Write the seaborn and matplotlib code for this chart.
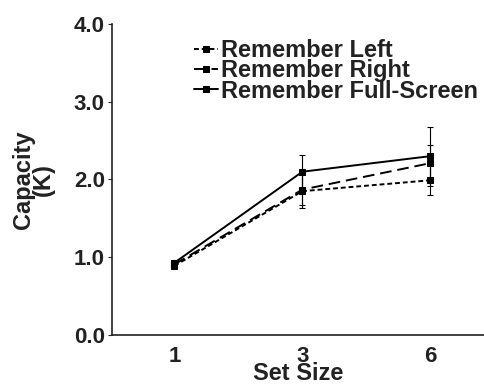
import matplotlib
matplotlib.use("Agg")
import matplotlib.pyplot as plt
import seaborn as sns
import pandas as pd
import numpy as np

set_sizes = ["1", "3", "6"]
series = ["Remember Left", "Remember Right", "Remember Full-Screen"]
left_vals = [0.89, 1.85, 1.99]
right_vals = [0.91, 1.87, 2.21]
full_vals = [0.93, 2.10, 2.30]
left_err = [0.03, 0.22, 0.19]
right_err = [0.03, 0.20, 0.23]
full_err = [0.03, 0.22, 0.38]

sns.set_style("ticks")
plt.rcParams['font.family'] = ['Liberation Sans', 'DejaVu Sans']
plt.rcParams['font.weight'] = 'bold'

rows = []
for name, vals, errs in zip(series, [left_vals, right_vals, full_vals], [left_err, right_err, full_err]):
    for i, (v, e) in enumerate(zip(vals, errs)):
        rows.append({"pos": i, "value": v, "err": e, "series": name})
df = pd.DataFrame(rows)

fig = plt.figure(figsize=(4.84, 3.86), dpi=100)
ax = fig.add_axes([0.231, 0.132, 0.769, 0.806])

dashes = {"Remember Left": (2.5, 1.5), "Remember Right": (6, 3), "Remember Full-Screen": ""}
sns.lineplot(data=df, x="pos", y="value", hue="series", style="series",
             palette=["black"] * 3, dashes=dashes, markers={s: "s" for s in series},
             markersize=5, linewidth=1.4, ax=ax, errorbar=None, legend=True,
             markeredgecolor="black")

for name in series:
    sub = df[df.series == name]
    ax.errorbar(sub["pos"], sub["value"], yerr=sub["err"], fmt="none",
                ecolor="black", elinewidth=0.8, capsize=2.5, capthick=0.8)

FS = 17
TFS = 16
ax.set_xlim(-0.49, 2.42)
ax.set_ylim(0, 4.0)
ax.set_xticks([0, 1, 2])
ax.set_xticklabels(set_sizes)
ax.set_yticks([0, 1, 2, 3, 4])
ax.set_yticklabels(["0.0", "1.0", "2.0", "3.0", "4.0"])
ax.tick_params(axis="x", length=0, labelsize=TFS, pad=8)
ax.tick_params(axis="y", length=3, labelsize=TFS, pad=2)
for lab in ax.get_xticklabels() + ax.get_yticklabels():
    lab.set_fontweight("bold")
    lab.set_color("#222222")
ax.set_xlabel("Set Size", fontsize=FS, fontweight="bold", labelpad=-4, color="#222222")
ax.set_ylabel("Capacity\n(K)", fontsize=FS, fontweight="bold", labelpad=14,
              linespacing=0.8, color="#222222")
sns.despine(ax=ax)
for sp in ["left", "bottom"]:
    ax.spines[sp].set_linewidth(1.2)
    ax.spines[sp].set_color("#222222")

leg = ax.legend(loc="upper left", bbox_to_anchor=(0.18, 1.0), frameon=False,
                handlelength=1.0, handletextpad=0.15, labelspacing=-0.12,
                borderaxespad=0.25, prop={"size": FS, "weight": "bold"})
for t in leg.get_texts():
    t.set_color("#222222")

fig.savefig("out.png", dpi=100)
